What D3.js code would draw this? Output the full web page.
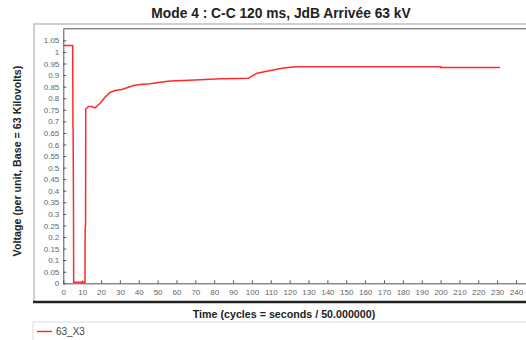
<!DOCTYPE html>
<html><head><meta charset="utf-8">
<script src="https://cdn.jsdelivr.net/npm/d3@7"></script>
<style>
html,body{margin:0;padding:0;background:#fff;overflow:hidden}
svg{display:block;font-family:"Liberation Sans",Arial,sans-serif}
</style></head><body>
<svg id="c" width="526" height="340"></svg>
<script>
const title = "Mode 4 : C-C 120 ms, JdB Arrivée 63 kV";
const xLabel = "Time (cycles = seconds / 50.000000)";
const yLabel = "Voltage (per unit, Base = 63 Kilovolts)";
const seriesName = "63_X3";
const xTicks = d3.range(0, 250, 10);
const yTicks = d3.range(0, 22).map(i => +(i * 0.05).toFixed(2));
const times = [0, 5, 5.1, 5.2, 5.4, 5.5, 11.5, 11.6, 11.8, 11.9, 13.3, 15.1, 16.8, 19.5, 22.1, 24.8, 27.5, 31, 33.7, 37.2, 40.7, 46, 51.3, 56.7, 63.7, 72.6, 83.2, 98.2, 100, 102.7, 109.8, 116.8, 123, 179, 200, 200.1, 231.5];
const volts = [1.028, 1.028, 0.68, 0.67, 0.34, 0.005, 0.005, 0.24, 0.25, 0.752, 0.764, 0.764, 0.758, 0.778, 0.804, 0.825, 0.833, 0.838, 0.845, 0.855, 0.859, 0.862, 0.869, 0.874, 0.877, 0.88, 0.884, 0.886, 0.895, 0.908, 0.92, 0.931, 0.936, 0.936, 0.936, 0.933, 0.933];

const svg = d3.select("#c");
const x = d3.scaleLinear().domain([0, 240]).range([63.3, 516]);
const y = d3.scaleLinear().domain([0, 1.1]).range([283.3, 28.8]);

// outer frame
svg.append("path").attr("d", "M34,302V24H526").attr("fill", "none").attr("stroke", "#cfcfcf").attr("stroke-width", 2);
// plot top border
svg.append("line").attr("x1", 63.3).attr("x2", 526).attr("y1", 28.8).attr("y2", 28.8).attr("stroke", "#555").attr("stroke-width", 1);

const fmt = d => String(d);
const ya = svg.append("g").attr("transform", "translate(63.3,0)")
  .call(d3.axisLeft(y).tickValues(yTicks.filter(v => v <= 1.05)).tickFormat(fmt).tickSizeInner(-3).tickSizeOuter(0).tickPadding(4));
const xa = svg.append("g").attr("transform", "translate(0,283.3)")
  .call(d3.axisBottom(x).tickValues(xTicks).tickFormat(fmt).tickSizeInner(-3).tickSizeOuter(0).tickPadding(6));
[ya, xa].forEach(g => {
  g.select(".domain").attr("stroke", "#555");
  g.selectAll(".tick line").attr("stroke", "#555");
  g.selectAll(".tick text").attr("fill", "#666").style("font-size", "8px").style("font-family", "Liberation Sans, Arial, sans-serif");
});
xa.select(".domain").attr("d", "M63.3,0.5H526");

// data line
const pts = times.map((t, i) => [t, volts[i]]);
svg.append("path").datum(pts)
  .attr("d", d3.line().x(d => x(d[0])).y(d => y(d[1])))
  .attr("fill", "none").attr("stroke", "#ff2a2a").attr("stroke-width", 1.5);

// bottom dark line
svg.append("line").attr("x1", 33).attr("x2", 526).attr("y1", 302).attr("y2", 302).attr("stroke", "#222").attr("stroke-width", 2.5);

// titles
svg.append("text").attr("x", 281).attr("y", 18).attr("text-anchor", "middle")
  .style("font-size", "13.8px").style("font-weight", "bold").attr("fill", "#222").text(title);
svg.append("text").attr("x", 284).attr("y", 318).attr("text-anchor", "middle")
  .style("font-size", "10.7px").style("font-weight", "bold").attr("fill", "#222").text(xLabel);
svg.append("text").attr("transform", "translate(21,161) rotate(-90)").attr("text-anchor", "middle")
  .style("font-size", "10.7px").style("font-weight", "bold").attr("fill", "#222").text(yLabel);

// legend box
svg.append("path").attr("d", "M33,340V322H526").attr("fill", "none").attr("stroke", "#dcdcdc").attr("stroke-width", 1);
svg.append("line").attr("x1", 37).attr("x2", 52).attr("y1", 331.5).attr("y2", 331.5).attr("stroke", "#ff2a2a").attr("stroke-width", 1.5);
svg.append("text").attr("x", 56).attr("y", 335).style("font-size", "10px").attr("fill", "#444").text(seriesName);
</script>
</body></html>
